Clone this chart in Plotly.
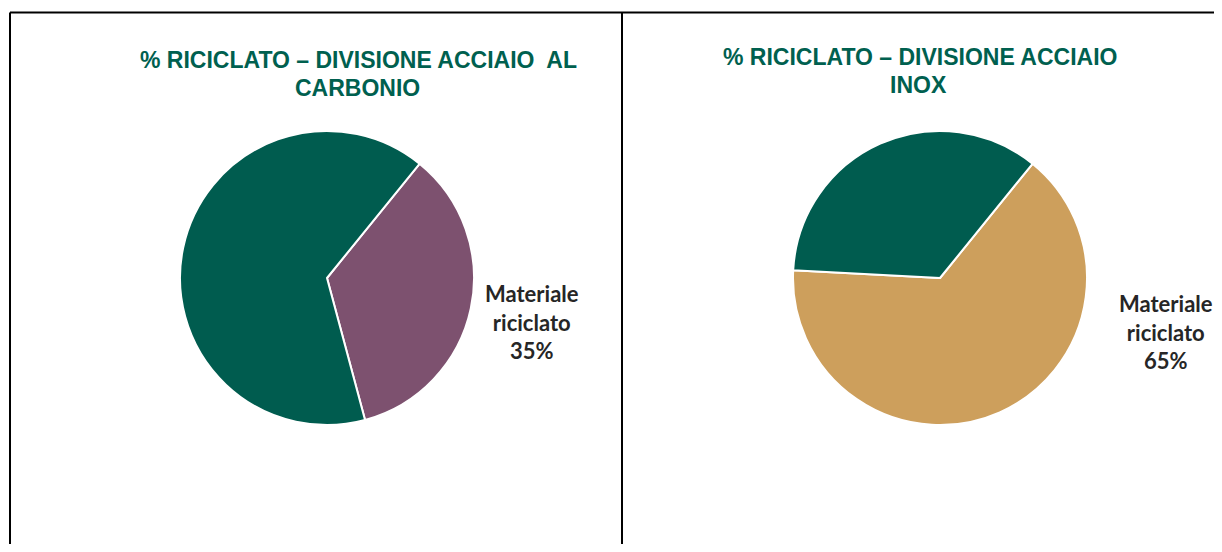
import plotly.graph_objects as go

# Data
categories = ["Materiale riciclato", "Altro materiale"]
carbonio_values = [35, 65]
inox_values = [65, 35]
titles = [["% RICICLATO – DIVISIONE ACCIAIO  AL", "CARBONIO"],
          ["% RICICLATO – DIVISIONE ACCIAIO", "INOX"]]

GREEN = "#005C4F"
PURPLE = "#7D516F"
TAN = "#CD9F5C"
TITLE_COLOR = "#00604F"

# page body has an 8px default margin; size the figure so the page is 1222x552
OFF = 8
W, H = 1222 - 2 * OFF, 552 - 2 * OFF


def px_x(x):
    return (x - OFF) / W


def px_y(y):
    return 1 - (y - OFF) / H


fig = go.Figure()

fig.add_trace(go.Pie(
    labels=categories, values=carbonio_values, sort=False, direction="clockwise",
    rotation=39, marker=dict(colors=[PURPLE, GREEN], line=dict(color="white", width=2)),
    textinfo="none", hoverinfo="label+percent", showlegend=False,
    domain=dict(x=[px_x(180), px_x(474)], y=[px_y(425), px_y(131)]),
))
fig.add_trace(go.Pie(
    labels=categories, values=inox_values, sort=False, direction="clockwise",
    rotation=39, marker=dict(colors=[TAN, GREEN], line=dict(color="white", width=2)),
    textinfo="none", hoverinfo="label+percent", showlegend=False,
    domain=dict(x=[px_x(793), px_x(1087)], y=[px_y(425), px_y(131)]),
))

annotations = []
title_pos = [[(358, 60), (357, 88)], [(920, 57), (919, 85)]]
for t, pos in zip(titles, title_pos):
    for line, (x, y) in zip(t, pos):
        annotations.append(dict(
            x=px_x(x), y=px_y(y), xref="paper", yref="paper", text=line,
            showarrow=False, xanchor="center", yanchor="middle",
            font=dict(family="Liberation Sans, Arial", size=23, color=TITLE_COLOR, weight="bold"),
        ))

label_pos = [(532, 322), (1166, 332)]
for vals, (x, y) in zip([carbonio_values, inox_values], label_pos):
    annotations.append(dict(
        x=px_x(x), y=px_y(y), xref="paper", yref="paper",
        text=f"Materiale<br>riciclato<br>{vals[0]}%",
        showarrow=False, xanchor="center", yanchor="middle", align="center",
        font=dict(family="Lato, Noto Sans", size=22, color="#262626", weight="bold"),
    ))

shapes = [
    dict(type="line", xref="paper", yref="paper", x0=px_x(10), x1=px_x(1240), y0=px_y(12.5), y1=px_y(12.5),
         line=dict(color="black", width=2)),
    dict(type="line", xref="paper", yref="paper", x0=px_x(10), x1=px_x(10), y0=px_y(12.5), y1=px_y(580),
         line=dict(color="black", width=2)),
    dict(type="line", xref="paper", yref="paper", x0=px_x(622), x1=px_x(622), y0=px_y(12.5), y1=px_y(580),
         line=dict(color="black", width=2)),
]

fig.update_layout(
    width=W, height=H, margin=dict(l=0, r=0, t=0, b=0),
    paper_bgcolor="white", plot_bgcolor="white",
    annotations=annotations, shapes=shapes,
)

fig.write_html("out.html", config={"displayModeBar": False})
